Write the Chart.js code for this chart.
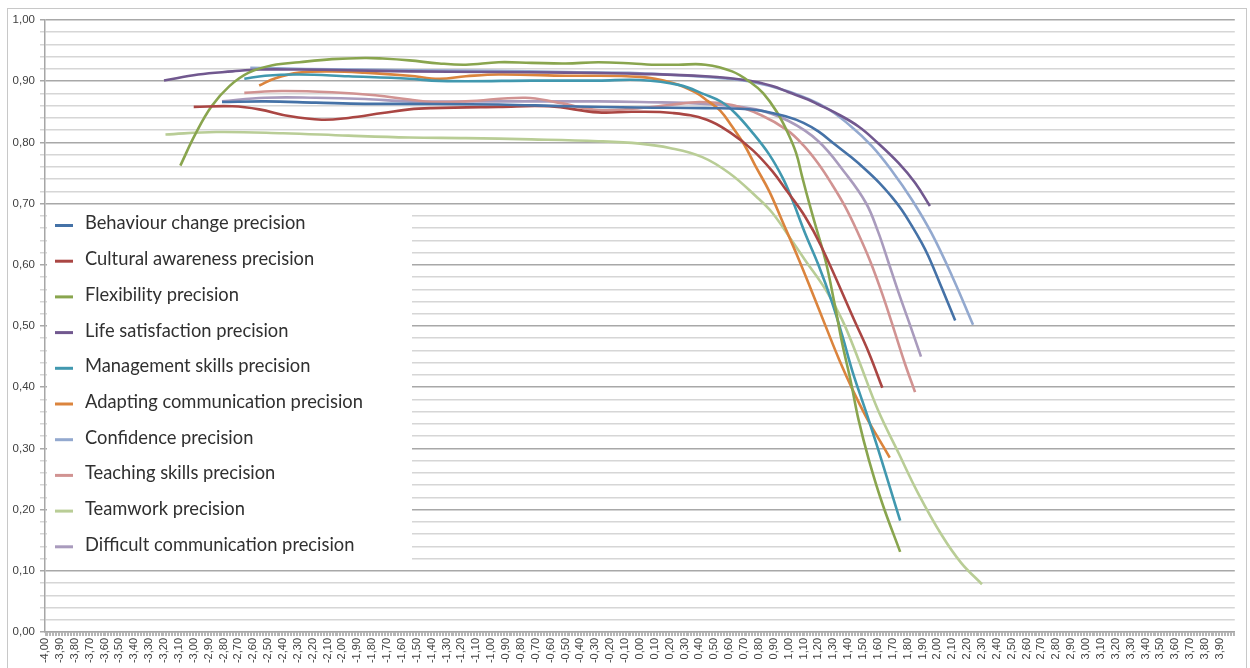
<!DOCTYPE html>
<html>
<head>
<meta charset="utf-8">
<script src="https://cdn.jsdelivr.net/npm/chart.js@4.4.1/dist/chart.umd.min.js"></script>
<style>
html,body{margin:0;padding:0;background:#fff;}
#wrap{width:1250px;height:668px;position:relative;}
</style>
</head>
<body>
<div id="wrap"><canvas id="c" width="1250" height="668"></canvas></div>
<script>
// ---- Tick labels ----
const xTickLabels = ["-4,00","-3,90","-3,80","-3,70","-3,60","-3,50","-3,40","-3,30","-3,20","-3,10",
  "-3,00","-2,90","-2,80","-2,70","-2,60","-2,50","-2,40","-2,30","-2,20","-2,10",
  "-2,00","-1,90","-1,80","-1,70","-1,60","-1,50","-1,40","-1,30","-1,20","-1,10",
  "-1,00","-0,90","-0,80","-0,70","-0,60","-0,50","-0,40","-0,30","-0,20","-0,10",
  "0,00","0,10","0,20","0,30","0,40","0,50","0,60","0,70","0,80","0,90",
  "1,00","1,10","1,20","1,30","1,40","1,50","1,60","1,70","1,80","1,90",
  "2,00","2,10","2,20","2,30","2,40","2,50","2,60","2,70","2,80","2,90",
  "3,00","3,10","3,20","3,30","3,40","3,50","3,60","3,70","3,80","3,90"];
const yTickLabels = ["0,00","0,10","0,20","0,30","0,40","0,50","0,60","0,70","0,80","0,90","1,00"];

// ---- Series names ----
const seriesNames = ["Behaviour change precision","Cultural awareness precision","Flexibility precision",
  "Life satisfaction precision","Management skills precision","Adapting communication precision",
  "Confidence precision","Teaching skills precision","Teamwork precision","Difficult communication precision"];

// ---- Series values (x = theta, y = precision) ----
const behaviourX = [-2.81,-2.52,-2.18,-1.85,-1.55,-0.95,-0.5,0.0,0.44,0.78,1.0,1.1,1.2,1.31,1.42,1.52,1.61,1.69,1.76,1.83,1.89,1.94,2.03,2.12];
const behaviourY = [0.866,0.867,0.865,0.863,0.863,0.862,0.859,0.857,0.856,0.853,0.841,0.832,0.818,0.797,0.776,0.755,0.734,0.712,0.690,0.663,0.638,0.614,0.562,0.509];

const culturalX = [-3.0,-2.74,-2.56,-2.36,-2.14,-1.96,-1.73,-1.55,-1.4,-0.95,-0.61,-0.28,-0.05,0.22,0.45,0.62,0.76,0.89,0.99,1.11,1.22,1.45,1.54,1.63];
const culturalY = [0.858,0.859,0.854,0.843,0.837,0.840,0.848,0.854,0.856,0.858,0.859,0.849,0.850,0.848,0.837,0.814,0.787,0.753,0.720,0.679,0.630,0.505,0.456,0.399];

const flexX = [-3.09,-2.99,-2.88,-2.76,-2.63,-2.47,-2.29,-2.07,-1.85,-1.73,-1.55,-1.35,-1.17,-0.95,-0.73,-0.5,-0.28,-0.05,0.08,0.26,0.44,0.62,0.75,0.83,0.92,0.99,1.05,1.09,1.13,1.18,1.25,1.31,1.36,1.42,1.47,1.54,1.63,1.75];
const flexY = [0.762,0.813,0.859,0.892,0.914,0.926,0.931,0.936,0.938,0.937,0.934,0.929,0.927,0.931,0.930,0.929,0.931,0.929,0.927,0.927,0.927,0.916,0.897,0.880,0.850,0.818,0.783,0.745,0.708,0.665,0.605,0.535,0.472,0.407,0.347,0.281,0.210,0.131];

const lifeX = [-3.2,-2.97,-2.74,-2.56,-2.29,-1.96,-1.55,-1.0,-0.5,0.0,0.44,0.73,0.89,1.0,1.13,1.2,1.31,1.47,1.6,1.74,1.85,1.95];
const lifeY = [0.901,0.911,0.916,0.919,0.919,0.918,0.916,0.915,0.914,0.912,0.908,0.901,0.892,0.882,0.870,0.862,0.849,0.826,0.799,0.766,0.734,0.696];

const mgmtX = [-2.66,-2.52,-2.29,-1.96,-1.55,-1.4,-1.17,-0.73,-0.28,0.0,0.26,0.44,0.55,0.64,0.75,0.87,0.96,1.02,1.11,1.2,1.29,1.36,1.43,1.52,1.6,1.68,1.75];
const mgmtY = [0.904,0.909,0.911,0.908,0.904,0.901,0.900,0.901,0.901,0.902,0.894,0.878,0.866,0.848,0.818,0.780,0.742,0.709,0.652,0.600,0.540,0.485,0.425,0.360,0.300,0.237,0.182];

const adaptX = [-2.56,-2.45,-2.29,-2.07,-1.85,-1.55,-1.35,-1.17,-0.95,-0.5,0.0,0.22,0.37,0.46,0.54,0.62,0.70,0.78,0.87,0.96,1.07,1.16,1.25,1.34,1.43,1.52,1.61,1.68];
const adaptY = [0.893,0.905,0.914,0.916,0.914,0.909,0.904,0.908,0.911,0.909,0.907,0.897,0.882,0.867,0.852,0.826,0.797,0.760,0.720,0.670,0.608,0.554,0.499,0.445,0.396,0.352,0.314,0.285];

const confX = [-2.62,-2.25,-1.5,-1.0,-0.5,0.0,0.44,0.73,1.0,1.25,1.42,1.56,1.69,1.83,1.96,2.1,2.24];
const confY = [0.922,0.920,0.918,0.917,0.915,0.913,0.907,0.900,0.883,0.857,0.826,0.794,0.755,0.706,0.652,0.581,0.502];

const teachX = [-2.66,-2.41,-2.07,-1.78,-1.55,-1.4,-1.17,-0.77,-0.55,-0.28,-0.05,0.2,0.4,0.62,0.82,0.99,1.1,1.2,1.29,1.38,1.47,1.55,1.63,1.71,1.78,1.85];
const teachY = [0.881,0.884,0.882,0.877,0.870,0.866,0.867,0.873,0.865,0.853,0.855,0.861,0.866,0.861,0.844,0.820,0.795,0.765,0.732,0.695,0.650,0.605,0.552,0.493,0.440,0.392];

const teamX = [-3.19,-2.85,-2.4,-1.96,-1.55,-1.17,-0.73,-0.28,0.0,0.2,0.42,0.6,0.78,0.89,1.02,1.11,1.25,1.36,1.47,1.6,1.74,1.87,2.03,2.16,2.3];
const teamY = [0.813,0.817,0.815,0.811,0.808,0.807,0.805,0.802,0.798,0.791,0.776,0.750,0.712,0.685,0.640,0.608,0.559,0.510,0.445,0.363,0.292,0.227,0.158,0.113,0.078];

const diffX = [-2.81,-2.52,-2.18,-1.85,-1.55,-0.95,-0.28,0.0,0.44,0.78,1.0,1.2,1.38,1.52,1.6,1.67,1.74,1.82,1.89];
const diffY = [0.867,0.873,0.873,0.871,0.867,0.867,0.867,0.866,0.863,0.854,0.835,0.802,0.750,0.701,0.655,0.605,0.554,0.499,0.450];

const seriesColors = ["#4572A7","#AA4643","#89A54E","#71588F","#4198AF","#DB843D","#93A9CF","#D19392","#B9CD96","#A99BBD"];

const seriesXs = [behaviourX, culturalX, flexX, lifeX, mgmtX, adaptX, confX, teachX, teamX, diffX];
const seriesYs = [behaviourY, culturalY, flexY, lifeY, mgmtY, adaptY, confY, teachY, teamY, diffY];

const datasets = seriesNames.map((name, i) => ({
  label: name,
  data: seriesXs[i].map((x, j) => ({x: x, y: seriesYs[i][j]})),
  borderColor: seriesColors[i],
  backgroundColor: seriesColors[i],
  borderWidth: 2.6,
  pointRadius: 0,
  fill: false,
  tension: 0.4
}));

const frameAndLegend = {
  id: 'frameAndLegend',
  beforeDraw(chart) {
    const ctx = chart.ctx;
    ctx.save();
    ctx.fillStyle = '#ffffff';
    ctx.fillRect(0, 0, chart.width, chart.height);
    ctx.strokeStyle = '#c8c8c8';
    ctx.lineWidth = 1;
    ctx.strokeRect(7.5, 8.5, 1239, 700);
    ctx.restore();
  },
  beforeDatasetsDraw(chart) {
    const ctx = chart.ctx;
    ctx.save();
    ctx.fillStyle = '#ffffff';
    ctx.fillRect(47, 207, 365, 360);
    ctx.font = '100px Lato';
    const w = ctx.measureText('Adapting communication precision').width;
    const size = 100 * 278 / w;
    ctx.font = size.toFixed(2) + 'px Lato';
    ctx.textBaseline = 'middle';
    ctx.textAlign = 'left';
    chart.data.datasets.forEach((ds, i) => {
      const y = 223.5 + i * 35.7;
      ctx.strokeStyle = ds.borderColor;
      ctx.lineWidth = 3;
      ctx.beginPath();
      ctx.moveTo(55, y + 2);
      ctx.lineTo(73, y + 2);
      ctx.stroke();
      ctx.fillStyle = '#303030';
      ctx.fillText(ds.label, 85, y);
    });
    ctx.restore();
  }
};

new Chart(document.getElementById('c'), {
  type: 'line',
  data: { datasets: datasets },
  plugins: [frameAndLegend],
  options: {
    responsive: false,
    animation: false,
    layout: { padding: { left: 0, top: 20, right: 13, bottom: 0 } },
    plugins: { legend: { display: false }, tooltip: { enabled: false } },
    scales: {
      x: {
        type: 'linear',
        min: -4,
        max: 4,
        afterFit(s) { s.height = 36; },
        ticks: {
          stepSize: 0.01,
          autoSkip: false,
          minRotation: 90,
          maxRotation: 90,
          padding: 2,
          color: '#404040',
          font: { family: 'Liberation Sans', size: 11 },
          callback(value) {
            const c = Math.round(value * 100);
            if (c % 10 !== 0) return '';
            const idx = Math.round(c / 10) + 40;
            return idx >= 0 && idx < xTickLabels.length ? xTickLabels[idx] : '';
          }
        },
        grid: { display: true, drawOnChartArea: false, drawTicks: true, tickLength: 4, color: '#b5b5b5', lineWidth: 1 },
        border: { display: true, color: '#a6a6a6', width: 1.5 }
      },
      y: {
        min: 0,
        max: 1,
        afterFit(s) { s.width = 45; },
        ticks: {
          stepSize: 0.02,
          autoSkip: false,
          padding: 5,
          color: '#404040',
          font: { family: 'Liberation Sans', size: 11.5 },
          callback(value) {
            const c = Math.round(value * 100);
            if (c % 10 !== 0) return '';
            return yTickLabels[Math.round(c / 10)];
          }
        },
        grid: {
          tickLength: 5,
          lineWidth: 1.5,
          color(ctx) {
            if (!ctx.tick) return '#d6d6d6';
            return Math.round(ctx.tick.value * 100) % 10 === 0 ? '#a8a8a8' : '#d6d6d6';
          }
        },
        border: { display: true, color: '#a6a6a6', width: 1.5 }
      }
    }
  }
});
</script>
</body>
</html>
